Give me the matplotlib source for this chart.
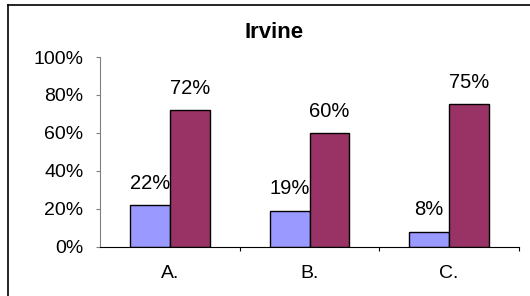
import numpy as np
import matplotlib
matplotlib.use("Agg")
from matplotlib import pyplot as plt
from matplotlib.lines import Line2D

categories = ['A.', 'B.', 'C.']
series1 = [22, 19, 8]
series2 = [72, 60, 75]
yticks = [0, 20, 40, 60, 80, 100]

plt.rcParams['font.family'] = ['Liberation Sans', 'DejaVu Sans']

W, H = 530, 296
fig = plt.figure(figsize=(W / 100, H / 100), dpi=100)

# outer chart frame: only its left and top edges fall inside the picture
fy = (H - 5) / H
fx = 7.5 / W
fig.lines.append(Line2D([fx, fx], [0, fy], transform=fig.transFigure,
                        color='black', linewidth=1.2))
fig.lines.append(Line2D([fx, 1], [fy, fy], transform=fig.transFigure,
                        color='black', linewidth=1.2))

ax = fig.add_axes([100 / W, (H - 246.7) / H, 419 / W, 189.7 / H])

x = np.arange(len(categories))
w = 0.286
ax.bar(x - w / 2, series1, w, color='#9999FF', edgecolor='black', linewidth=1)
ax.bar(x + w / 2, series2, w, color='#993366', edgecolor='black', linewidth=1)

for i in range(len(categories)):
    ax.text(x[i] - w / 2, series1[i] + 6.5, '%d%%' % series1[i], ha='center',
            va='bottom', fontsize=14.5)
    ax.text(x[i] + w / 2, series2[i] + 6.5, '%d%%' % series2[i], ha='center',
            va='bottom', fontsize=14.5)

ax.set_xlim(-0.5, 2.5)
ax.set_ylim(0, 100)
ax.set_yticks(yticks)
ax.set_yticklabels(['%d%%' % v for v in yticks], fontsize=14)
ax.set_xticks([0.5, 1.5, 2.5])
ax.set_xticklabels([])
ax.set_xticks(x, minor=True)
ax.set_xticklabels(categories, minor=True, fontsize=14)
ax.tick_params(axis='x', which='minor', length=0, pad=13)
ax.tick_params(axis='x', which='major', length=3, direction='out')
ax.tick_params(axis='y', length=3, direction='out', pad=9, color='#808080')
ax.spines['top'].set_visible(False)
ax.spines['right'].set_visible(False)
ax.spines['left'].set_color('#808080')

fig.text(274 / W, (H - 32) / H, 'Irvine', ha='center', va='center',
         fontsize=16, fontweight='bold')

fig.savefig('out.png', dpi=100)
